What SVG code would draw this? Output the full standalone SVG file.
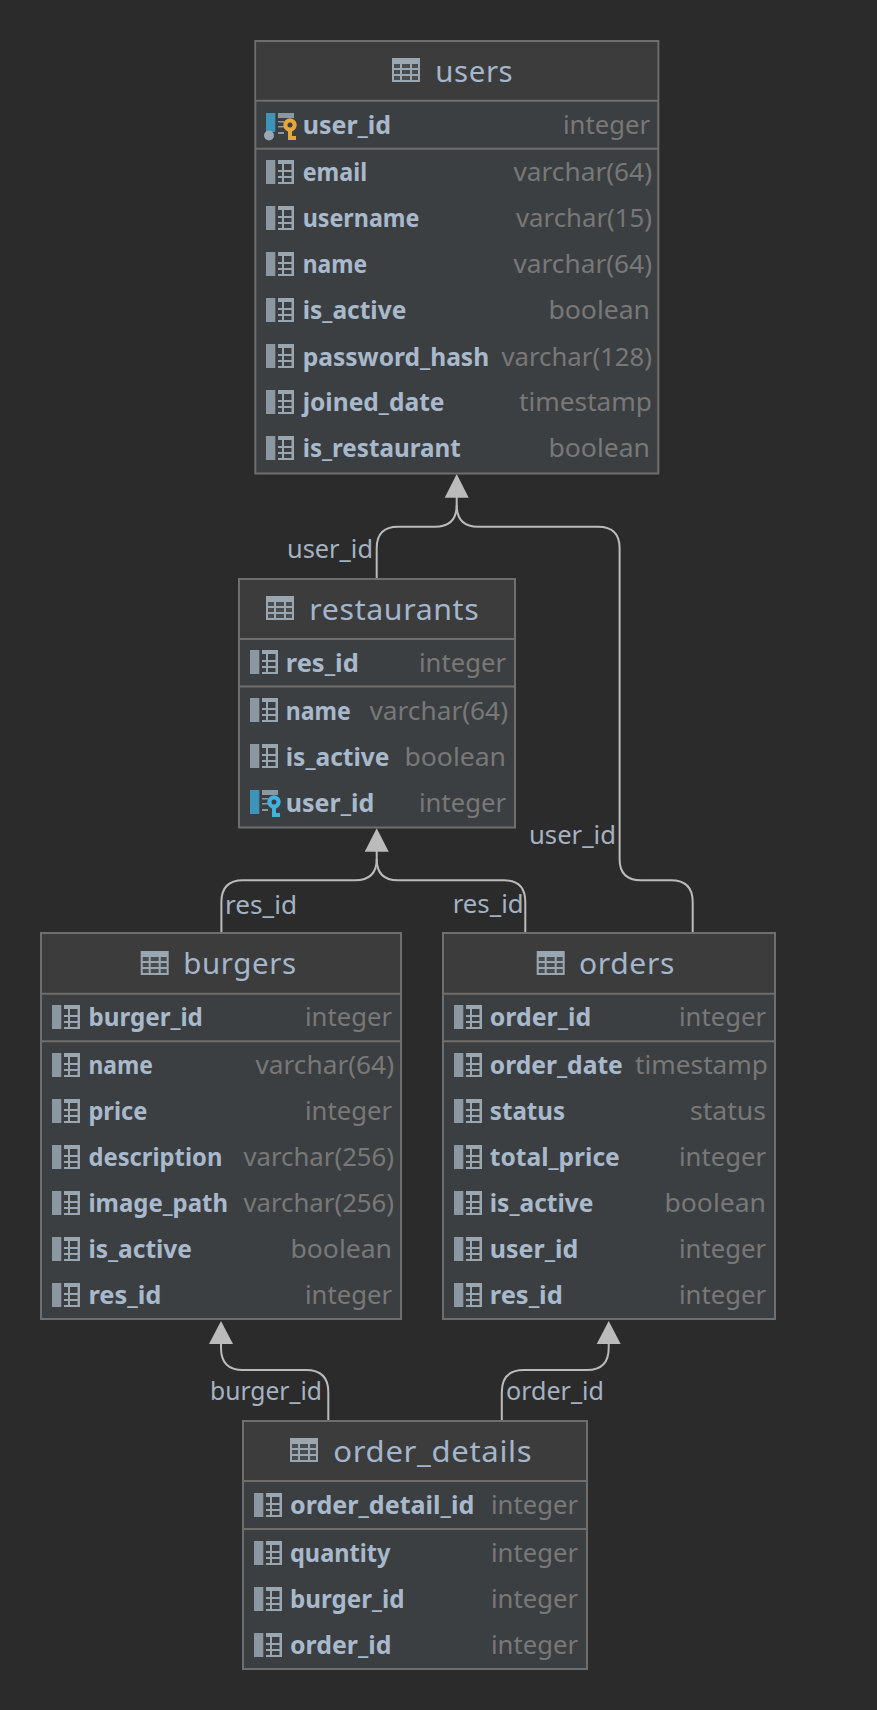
<svg xmlns="http://www.w3.org/2000/svg" xmlns:xlink="http://www.w3.org/1999/xlink" width="877" height="1710" viewBox="0 0 877 1710">
<style>
text{font-family:"Noto Sans","Open Sans","Liberation Sans",sans-serif}
.box{fill:#3c3f41;stroke:#6e6e6e;stroke-width:2}
.head{fill:#3c3c3c}
.sep{stroke:#6e6e6e;stroke-width:2}
.title{font-size:29px;fill:#a4b6cc;letter-spacing:.6px}
.n{font-size:25px;font-weight:700;fill:#a9b9cc}
.t{font-size:25px;fill:#787878;text-anchor:end}
.lab{font-size:24.5px;fill:#a4b2c2}
.conn{fill:none;stroke:#bbbbbb;stroke-width:2}
.arrow{fill:#bbbbbb}
</style>
<defs>
<symbol id="tbl" overflow="visible"><path fill="#9aa7b0" d="M0 0H28V24H0Z"/><path fill="#4a4d50" d="M2 6H8V10H2ZM10 6H18V10H10ZM20 6H26V10H20ZM2 12H8V16H2ZM10 12H18V16H10ZM20 12H26V16H20ZM2 18H8V22H2ZM10 18H18V22H10ZM20 18H26V22H20Z"/></symbol>
<symbol id="col" overflow="visible"><path fill="#8b98a1" d="M0 -12H9.300V12H0Z"/><path fill="#9aa7b0" d="M12 -12H28V12H12V10H16V6H12V4H16V0H12V-2H16V-8H12ZM18 -8V-2H25.500V-8ZM18 0V4H25.500V0ZM18 6V10H25.500V6Z"/></symbol>
<symbol id="rows" overflow="visible"><path fill="#8b98a1" d="M12 -12H28V-7H12ZM12 -4H18V-2.500H12ZM12 1H18V2.500H12ZM12 7H18V9H12Z"/></symbol>
<symbol id="keyshape" overflow="visible"><path fill-rule="evenodd" d="M24 -6.700A6.700 6.700 0 0 1 26 6.400V11H30V15H22V6.400A6.700 6.700 0 0 1 24 -6.700ZM24 -2.500A2.500 2.500 0 1 0 24 2.500A2.500 2.500 0 1 0 24 -2.500Z"/></symbol>
<symbol id="pk" overflow="visible"><path fill="#3e93b8" d="M0 -12H9.300V7H0Z"/><circle cx="3" cy="10.500" r="5" fill="#9aa7b0"/><use xlink:href="#rows"/><use xlink:href="#keyshape" fill="#e6a83a"/></symbol>
<symbol id="fk" overflow="visible"><path fill="#3e93b8" d="M0 -12H9.300V12H0Z"/><use xlink:href="#rows"/><use xlink:href="#keyshape" fill="#3fb2e0"/></symbol>
</defs>
<rect width="877" height="1710" fill="#2b2b2b"/>
<g id="connectors">
<path class="conn" d="M376.700 578V548Q376.700 526.700 398 526.700H435Q456.700 526.700 456.700 505V497"/>
<path class="conn" d="M692.700 932V902Q692.700 880.300 671 880.300H641Q619.600 880.300 619.600 859V548Q619.600 526.700 598 526.700H478Q456.700 526.700 456.700 505"/>
<path class="arrow" d="M456.700 474L468.700 497.700H444.700Z"/>
<path class="conn" d="M221.400 932V902Q221.400 880.300 243 880.300H355Q376.700 880.300 376.700 859V851"/>
<path class="conn" d="M525.300 932V902Q525.300 880.300 504 880.300H398Q376.700 880.300 376.700 859"/>
<path class="arrow" d="M376.700 828.300L388.700 851.700H364.700Z"/>
<path class="conn" d="M328.300 1420V1392Q328.300 1370 306 1370H243Q221 1370 221 1348V1344"/>
<path class="arrow" d="M221 1321L233 1344H209Z"/>
<path class="conn" d="M501.800 1420V1392Q501.800 1370 524 1370H587Q608.700 1370 608.700 1348V1344"/>
<path class="arrow" d="M608.700 1321L620.700 1344H596.700Z"/>
<text class="lab" x="287" y="558" textLength="86" lengthAdjust="spacingAndGlyphs">user_id</text>
<text class="lab" x="529" y="844" textLength="87" lengthAdjust="spacingAndGlyphs">user_id</text>
<text class="lab" x="225" y="914" textLength="72" lengthAdjust="spacingAndGlyphs">res_id</text>
<text class="lab" x="452.700" y="912.700" textLength="71" lengthAdjust="spacingAndGlyphs">res_id</text>
<text class="lab" x="210" y="1400" textLength="112" lengthAdjust="spacingAndGlyphs">burger_id</text>
<text class="lab" x="506" y="1400" textLength="98" lengthAdjust="spacingAndGlyphs">order_id</text>
</g>
<g id="users">
<rect class="box" x="255.300" y="41" width="403" height="432.500"/>
<rect class="head" x="256.300" y="42" width="401" height="58"/>
<path class="sep" d="M256 100.700H658M256 148.700H658"/>
<use xlink:href="#tbl" x="392" y="58"/>
<text class="title" x="435.300" y="81.500" textLength="78" lengthAdjust="spacingAndGlyphs">users</text>
<use xlink:href="#pk" x="266" y="125"/>
<text class="n" x="302.700" y="134" textLength="88.400" lengthAdjust="spacingAndGlyphs">user_id</text>
<text class="t" x="650" y="134" textLength="87" lengthAdjust="spacingAndGlyphs">integer</text>
<use xlink:href="#col" x="266" y="172"/>
<text class="n" x="302.700" y="181" textLength="64.400" lengthAdjust="spacingAndGlyphs">email</text>
<text class="t" x="652" y="181" textLength="138.500" lengthAdjust="spacingAndGlyphs">varchar(64)</text>
<use xlink:href="#col" x="266" y="218"/>
<text class="n" x="302.700" y="227" textLength="116.700" lengthAdjust="spacingAndGlyphs">username</text>
<text class="t" x="652" y="227" textLength="136" lengthAdjust="spacingAndGlyphs">varchar(15)</text>
<use xlink:href="#col" x="266" y="264"/>
<text class="n" x="302.700" y="273" textLength="64.400" lengthAdjust="spacingAndGlyphs">name</text>
<text class="t" x="652" y="273" textLength="138.500" lengthAdjust="spacingAndGlyphs">varchar(64)</text>
<use xlink:href="#col" x="266" y="310"/>
<text class="n" x="302.700" y="319" textLength="103.600" lengthAdjust="spacingAndGlyphs">is_active</text>
<text class="t" x="650" y="319" textLength="101.500" lengthAdjust="spacingAndGlyphs">boolean</text>
<use xlink:href="#col" x="266" y="356"/>
<text class="n" x="302.700" y="365.500" textLength="186.500" lengthAdjust="spacingAndGlyphs">password_hash</text>
<text class="t" x="652" y="365.500" textLength="150.500" lengthAdjust="spacingAndGlyphs">varchar(128)</text>
<use xlink:href="#col" x="266" y="402"/>
<text class="n" x="302.700" y="411" textLength="141.800" lengthAdjust="spacingAndGlyphs">joined_date</text>
<text class="t" x="652" y="411" textLength="133" lengthAdjust="spacingAndGlyphs">timestamp</text>
<use xlink:href="#col" x="266" y="448"/>
<text class="n" x="302.700" y="457" textLength="158" lengthAdjust="spacingAndGlyphs">is_restaurant</text>
<text class="t" x="650" y="457" textLength="101.500" lengthAdjust="spacingAndGlyphs">boolean</text>
</g>
<g id="restaurants">
<rect class="box" x="239" y="579" width="276" height="248.500"/>
<rect class="head" x="240" y="580" width="274" height="59"/>
<path class="sep" d="M240 639H514M240 686.600H514"/>
<use xlink:href="#tbl" x="266" y="596"/>
<text class="title" x="309.300" y="620" textLength="170" lengthAdjust="spacingAndGlyphs">restaurants</text>
<use xlink:href="#col" x="250" y="662"/>
<text class="n" x="285.800" y="671.500" textLength="73" lengthAdjust="spacingAndGlyphs">res_id</text>
<text class="t" x="506" y="671.500" textLength="87" lengthAdjust="spacingAndGlyphs">integer</text>
<use xlink:href="#col" x="250" y="710"/>
<text class="n" x="285.800" y="719.500" textLength="65" lengthAdjust="spacingAndGlyphs">name</text>
<text class="t" x="508" y="719.500" textLength="138.500" lengthAdjust="spacingAndGlyphs">varchar(64)</text>
<use xlink:href="#col" x="250" y="756"/>
<text class="n" x="285.800" y="766" textLength="103.600" lengthAdjust="spacingAndGlyphs">is_active</text>
<text class="t" x="506" y="766" textLength="101.500" lengthAdjust="spacingAndGlyphs">boolean</text>
<use xlink:href="#fk" x="250" y="802"/>
<text class="n" x="285.800" y="812" textLength="88.400" lengthAdjust="spacingAndGlyphs">user_id</text>
<text class="t" x="506" y="812" textLength="87" lengthAdjust="spacingAndGlyphs">integer</text>
</g>
<g id="burgers">
<rect class="box" x="41" y="933" width="360" height="386"/>
<rect class="head" x="42" y="934" width="358" height="59"/>
<path class="sep" d="M42 993.700H400M42 1041.200H400"/>
<use xlink:href="#tbl" x="140.700" y="951"/>
<text class="title" x="183.300" y="974" textLength="113.400" lengthAdjust="spacingAndGlyphs">burgers</text>
<use xlink:href="#col" x="52" y="1017"/>
<text class="n" x="88.400" y="1026" textLength="114.500" lengthAdjust="spacingAndGlyphs">burger_id</text>
<text class="t" x="392" y="1026" textLength="87" lengthAdjust="spacingAndGlyphs">integer</text>
<use xlink:href="#col" x="52" y="1065"/>
<text class="n" x="88.400" y="1074" textLength="64.400" lengthAdjust="spacingAndGlyphs">name</text>
<text class="t" x="394" y="1074" textLength="138.500" lengthAdjust="spacingAndGlyphs">varchar(64)</text>
<use xlink:href="#col" x="52" y="1111"/>
<text class="n" x="88.400" y="1120" textLength="59" lengthAdjust="spacingAndGlyphs">price</text>
<text class="t" x="392" y="1120" textLength="87" lengthAdjust="spacingAndGlyphs">integer</text>
<use xlink:href="#col" x="52" y="1157"/>
<text class="n" x="88.400" y="1166" textLength="134" lengthAdjust="spacingAndGlyphs">description</text>
<text class="t" x="394" y="1166" textLength="150.500" lengthAdjust="spacingAndGlyphs">varchar(256)</text>
<use xlink:href="#col" x="52" y="1203"/>
<text class="n" x="88.400" y="1212" textLength="139.600" lengthAdjust="spacingAndGlyphs">image_path</text>
<text class="t" x="394" y="1212" textLength="150.500" lengthAdjust="spacingAndGlyphs">varchar(256)</text>
<use xlink:href="#col" x="52" y="1249"/>
<text class="n" x="88.400" y="1258" textLength="103.600" lengthAdjust="spacingAndGlyphs">is_active</text>
<text class="t" x="392" y="1258" textLength="101.500" lengthAdjust="spacingAndGlyphs">boolean</text>
<use xlink:href="#col" x="52" y="1295"/>
<text class="n" x="88.400" y="1304" textLength="73" lengthAdjust="spacingAndGlyphs">res_id</text>
<text class="t" x="392" y="1304" textLength="87" lengthAdjust="spacingAndGlyphs">integer</text>
</g>
<g id="orders">
<rect class="box" x="443" y="933" width="332" height="386"/>
<rect class="head" x="444" y="934" width="330" height="59"/>
<path class="sep" d="M444 993.700H774M444 1041.200H774"/>
<use xlink:href="#tbl" x="536.700" y="951"/>
<text class="title" x="579" y="974" textLength="96" lengthAdjust="spacingAndGlyphs">orders</text>
<use xlink:href="#col" x="454" y="1017"/>
<text class="n" x="489.800" y="1026" textLength="101.400" lengthAdjust="spacingAndGlyphs">order_id</text>
<text class="t" x="766" y="1026" textLength="87" lengthAdjust="spacingAndGlyphs">integer</text>
<use xlink:href="#col" x="454" y="1065"/>
<text class="n" x="489.800" y="1074" textLength="133" lengthAdjust="spacingAndGlyphs">order_date</text>
<text class="t" x="768" y="1074" textLength="133" lengthAdjust="spacingAndGlyphs">timestamp</text>
<use xlink:href="#col" x="454" y="1111"/>
<text class="n" x="489.800" y="1120" textLength="75.300" lengthAdjust="spacingAndGlyphs">status</text>
<text class="t" x="766" y="1120" textLength="76" lengthAdjust="spacingAndGlyphs">status</text>
<use xlink:href="#col" x="454" y="1157"/>
<text class="n" x="489.800" y="1166" textLength="130" lengthAdjust="spacingAndGlyphs">total_price</text>
<text class="t" x="766" y="1166" textLength="87" lengthAdjust="spacingAndGlyphs">integer</text>
<use xlink:href="#col" x="454" y="1203"/>
<text class="n" x="489.800" y="1212" textLength="103.600" lengthAdjust="spacingAndGlyphs">is_active</text>
<text class="t" x="766" y="1212" textLength="101.500" lengthAdjust="spacingAndGlyphs">boolean</text>
<use xlink:href="#col" x="454" y="1249"/>
<text class="n" x="489.800" y="1258" textLength="88.400" lengthAdjust="spacingAndGlyphs">user_id</text>
<text class="t" x="766" y="1258" textLength="87" lengthAdjust="spacingAndGlyphs">integer</text>
<use xlink:href="#col" x="454" y="1295"/>
<text class="n" x="489.800" y="1304" textLength="73" lengthAdjust="spacingAndGlyphs">res_id</text>
<text class="t" x="766" y="1304" textLength="87" lengthAdjust="spacingAndGlyphs">integer</text>
</g>
<g id="order_details">
<rect class="box" x="243" y="1421" width="344" height="248"/>
<rect class="head" x="244" y="1422" width="342" height="59"/>
<path class="sep" d="M244 1481H586M244 1529H586"/>
<use xlink:href="#tbl" x="290" y="1438"/>
<text class="title" x="333.300" y="1462" textLength="199" lengthAdjust="spacingAndGlyphs">order_details</text>
<use xlink:href="#col" x="254" y="1505"/>
<text class="n" x="290" y="1514" textLength="184.300" lengthAdjust="spacingAndGlyphs">order_detail_id</text>
<text class="t" x="578" y="1514" textLength="87" lengthAdjust="spacingAndGlyphs">integer</text>
<use xlink:href="#col" x="254" y="1553"/>
<text class="n" x="290" y="1562" textLength="100.400" lengthAdjust="spacingAndGlyphs">quantity</text>
<text class="t" x="578" y="1562" textLength="87" lengthAdjust="spacingAndGlyphs">integer</text>
<use xlink:href="#col" x="254" y="1599"/>
<text class="n" x="290" y="1608" textLength="114.500" lengthAdjust="spacingAndGlyphs">burger_id</text>
<text class="t" x="578" y="1608" textLength="87" lengthAdjust="spacingAndGlyphs">integer</text>
<use xlink:href="#col" x="254" y="1645"/>
<text class="n" x="290" y="1654" textLength="101.400" lengthAdjust="spacingAndGlyphs">order_id</text>
<text class="t" x="578" y="1654" textLength="87" lengthAdjust="spacingAndGlyphs">integer</text>
</g>
</svg>
